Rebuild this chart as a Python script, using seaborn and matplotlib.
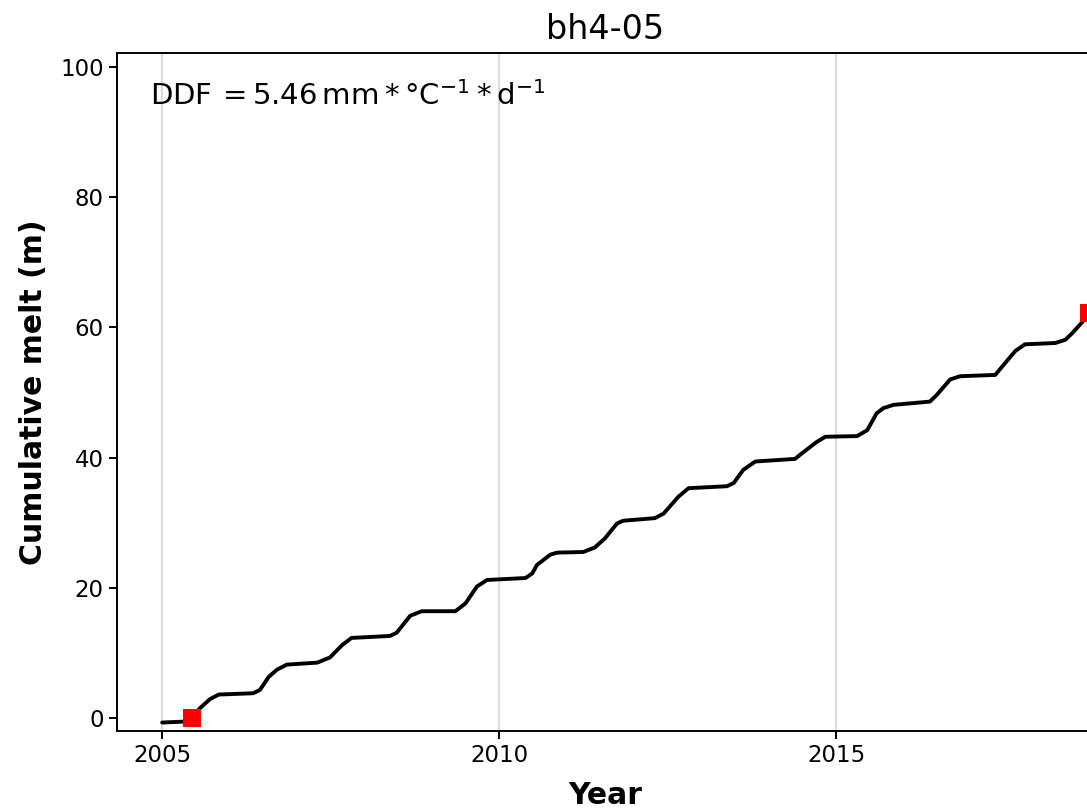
import matplotlib
matplotlib.use("Agg")
import matplotlib.pyplot as plt
import seaborn as sns
import pandas as pd

# ---- data ----
years = [2005.00, 2005.32, 2005.45, 2005.56, 2005.71, 2005.84, 2006.35, 2006.45, 2006.58, 2006.70,
         2006.85, 2007.30, 2007.49, 2007.67, 2007.81, 2008.38, 2008.48, 2008.68, 2008.85, 2009.35,
         2009.50, 2009.67, 2009.82, 2010.39, 2010.49, 2010.56, 2010.76, 2010.86, 2011.25, 2011.42,
         2011.57, 2011.75, 2011.84, 2012.31, 2012.44, 2012.66, 2012.81, 2013.38, 2013.48, 2013.62,
         2013.80, 2014.39, 2014.46, 2014.71, 2014.84, 2015.31, 2015.46, 2015.60, 2015.70, 2015.85,
         2016.39, 2016.49, 2016.69, 2016.84, 2017.36, 2017.48, 2017.66, 2017.80, 2018.25, 2018.40,
         2018.50, 2018.65, 2018.75]
melt = [-0.7, -0.56, 0.2, 1.5, 2.9, 3.6, 3.8, 4.3, 6.3, 7.4,
        8.2, 8.5, 9.3, 11.2, 12.3, 12.6, 13.1, 15.7, 16.4, 16.4,
        17.6, 20.2, 21.2, 21.5, 22.2, 23.5, 25.1, 25.4, 25.5, 26.2,
        27.6, 29.9, 30.3, 30.7, 31.4, 34.0, 35.3, 35.6, 36.1, 38.1,
        39.4, 39.8, 40.4, 42.4, 43.2, 43.3, 44.2, 46.8, 47.6, 48.1,
        48.6, 49.6, 52.0, 52.5, 52.7, 54.2, 56.4, 57.4, 57.6, 58.1,
        59.1, 60.8, 62.2]
obs_years = [2005.44, 2018.75]
obs_melt = [0.0, 62.2]
x_ticks = [2005, 2010, 2015]
y_ticks = [0, 20, 40, 60, 80, 100]
title = "bh4-05"
ddf_text = r"DDF$\,=5.46\,\mathrm{mm} * \degree\mathrm{C}^{-1} * \mathrm{d}^{-1}$"

sns.set_style("ticks")
plt.rcParams["font.family"] = ["DejaVu Sans"]
plt.rcParams["text.color"] = "black"
plt.rcParams["axes.labelcolor"] = "black"
plt.rcParams["xtick.color"] = "black"
plt.rcParams["ytick.color"] = "black"

fig = plt.figure(figsize=(10.87, 8.11), dpi=100)
ax = fig.add_axes([117 / 1087, 80 / 811, (1093 - 117) / 1087, 678 / 811])

df = pd.DataFrame({"year": years, "melt": melt})
sns.lineplot(data=df, x="year", y="melt", ax=ax, color="black", linewidth=2.8,
             sort=False, estimator=None, zorder=3)
obs = pd.DataFrame({"year": obs_years, "melt": obs_melt})
sns.scatterplot(data=obs, x="year", y="melt", ax=ax, color="red", marker="s",
                s=160, linewidth=0, zorder=4)

ax.set_xlim(2004.33, 2018.81)
ax.set_ylim(-2.0, 102.15)
ax.set_xticks(x_ticks)
ax.set_yticks(y_ticks)
ax.xaxis.grid(True, color="#dddddd", linewidth=1.6)
ax.yaxis.grid(False)
ax.set_axisbelow(True)

for s in ax.spines.values():
    s.set_color("black")
    s.set_linewidth(1.4)
ax.tick_params(axis="both", labelsize=16.5, length=6, width=1.4, color="black", labelcolor="black")

ax.set_xlabel("Year", fontsize=21.5, fontweight="bold", labelpad=10, color="black")
ax.set_ylabel("Cumulative melt (m)", fontsize=21.5, fontweight="bold", labelpad=9, color="black")
ax.set_title(title, fontsize=24, pad=10, color="black")

ax.text(0.034, 0.923, ddf_text, transform=ax.transAxes, fontsize=21,
        ha="left", va="baseline", color="black")

fig.savefig("out.png", dpi=100)
